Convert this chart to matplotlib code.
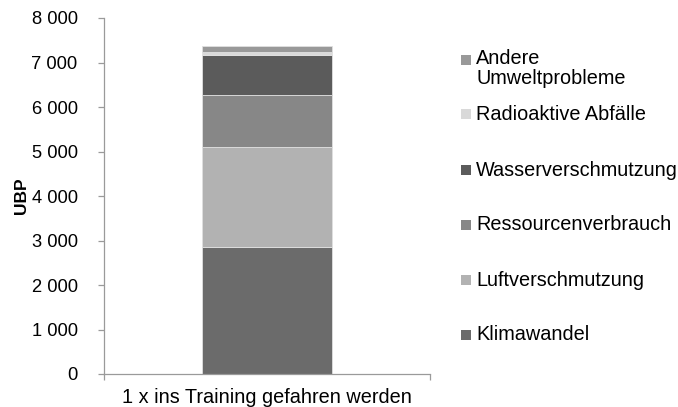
import matplotlib
matplotlib.use("Agg")
import matplotlib.pyplot as plt
from matplotlib.ticker import FuncFormatter, FixedLocator
from matplotlib.patches import Rectangle

plt.rcParams['font.family'] = ['Liberation Sans', 'DejaVu Sans']

category = ["1 x ins Training gefahren werden"]
series = ["Klimawandel", "Luftverschmutzung", "Ressourcenverbrauch",
          "Wasserverschmutzung", "Radioaktive Abfälle", "Andere Umweltprobleme"]
legend_labels = ["Klimawandel", "Luftverschmutzung", "Ressourcenverbrauch",
                 "Wasserverschmutzung", "Radioaktive Abfälle", "Andere\nUmweltprobleme"]
values = [2850, 2240, 1180, 900, 65, 135]
colors = ["#6b6b6b", "#b2b2b2", "#878787", "#5b5b5b", "#d9d9d9", "#999999"]
yticks = [0, 1000, 2000, 3000, 4000, 5000, 6000, 7000, 8000]

W, H = 678, 407
FS = 14.3
fig = plt.figure(figsize=(W / 100, H / 100), dpi=100)
ax = fig.add_axes([104 / W, 1 - 374 / H, (430 - 104) / W, (374 - 18) / H])

bottom = 0
for s, v, c in zip(series, values, colors):
    ax.bar(0, v, width=0.4, bottom=bottom, color=c, edgecolor="#e0e0e0", linewidth=0.6, label=s)
    bottom += v

ax.set_xlim(-0.5, 0.5)
ax.set_ylim(0, 8000)
ax.yaxis.set_major_locator(FixedLocator(yticks))
ax.yaxis.set_major_formatter(FuncFormatter(lambda v, p: f"{int(v):,}".replace(",", " ")))
ax.set_xticks([-0.5, 0.5])
ax.set_xticklabels(["", ""])
ax.text(0, -0.066, category[0], transform=ax.get_xaxis_transform(), ha="center", va="center", fontsize=FS)

for sp in ["top", "right"]:
    ax.spines[sp].set_visible(False)
for sp in ["left", "bottom"]:
    ax.spines[sp].set_color("#9a9a9a")
    ax.spines[sp].set_linewidth(0.9)
ax.tick_params(axis="both", colors="#9a9a9a", length=4, width=0.9, direction="out")
ax.tick_params(axis="y", labelcolor="black", labelsize=13.2, pad=15)
ax.set_ylabel("UBP", fontsize=12.5, fontweight="bold", labelpad=1.5)

# legend (manual, reverse order)
leg_y = {5: 60, 4: 114, 3: 170, 2: 225, 1: 280, 0: 335}
for i, (lab, c) in enumerate(zip(legend_labels, colors)):
    y = leg_y[i]
    fig.patches.append(Rectangle((461 / W, 1 - (y + 5) / H), 10 / W, 10 / H,
                                 transform=fig.transFigure, facecolor=c, edgecolor="none"))
    if "\n" in lab:
        fig.text(476 / W, 1 - (y - 11) / H, lab, ha="left", va="top", fontsize=FS, linespacing=1.1)
    else:
        fig.text(476 / W, 1 - y / H, lab, ha="left", va="center", fontsize=FS)

fig.savefig("out.png", dpi=100)
